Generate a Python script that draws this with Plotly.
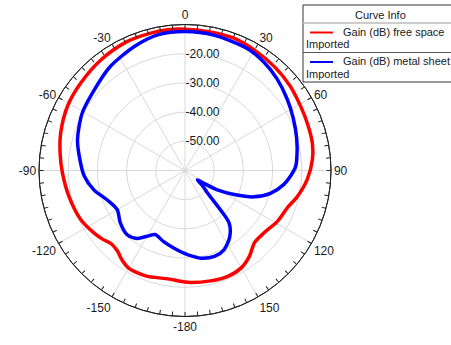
import plotly.graph_objects as go

# ---- data (theta in degrees, gain in dB) ----
theta_free = [-180, -170, -160, -150, -145, -140, -135, -130, -125, -115, -103, -91, -82, -73,
              -61, -50, -37, -24, -14, -7, 0, 9, 20, 30, 41, 51, 61, 69, 78, 85, 94, 103,
              110, 119, 128, 136, 143, 150, 158, 167, 177, 180]
gain_free = [-21.8, -22.4, -21.5, -21.4, -22.5, -24.0, -24.4, -23.3, -22.3, -20.5, -19.3, -18.0,
             -16.8, -15.5, -14.1, -13.4, -12.4, -11.6, -11.5, -11.4, -11.6, -11.8, -11.7, -12.4,
             -13.1, -13.8, -14.7, -15.1, -15.4, -16.2, -18.0, -20.5, -22.7, -23.9, -25.5, -25.7,
             -23.3, -21.5, -20.9, -21.2, -21.6, -21.8]

theta_metal = [-180, -172, -163, -155, -150, -145, -138, -129, -120, -111, -102, -93, -82, -74,
               -61, -48, -36, -22, -11, 0, 12, 27, 36, 45, 55, 64, 74, 84, 88, 93, 98, 105,
               111, 116, 121, 124, 127, 131, 135, 138, 140, 146, 154, 161, 170, 178, 180]
gain_metal = [-31.5, -33.1, -34.6, -35.8, -34.0, -31.6, -30.4, -31.5, -33.2, -31.6, -28.1, -25.4,
              -23.4, -21.7, -19.7, -18.4, -16.2, -14.1, -12.6, -12.4, -12.6, -13.1, -14.1, -15.5,
              -17.3, -18.8, -20.2, -21.5, -22.1, -23.8, -25.8, -29.7, -34.8, -41.3, -47.1, -52.2,
              -54.7, -52.0, -49.1, -41.8, -36.5, -32.6, -29.7, -28.9, -29.5, -31.1, -31.5]

series_names = ["Gain (dB) free space", "Gain (dB) metal sheet"]
series_sub = "Imported"
legend_title = "Curve Info"

ang_tickvals = [0, 30, 60, 90, 120, 150, 180, 210, 240, 270, 300, 330]
ang_ticktext = ["0", "30", "60", "90", "120", "150", "-180", "-150", "-120", "-90", "-60", "-30"]
minor_tickvals = list(range(0, 360, 5))
rad_tickvals = [-50, -40, -30, -20]
rad_ticktext = ["-50.00", "-40.00", "-30.00", "-20.00"]
r_range = [-60, -10]

W, H = 451, 345
FONT = "Liberation Sans, Arial, sans-serif"

fig = go.Figure()
fig.add_trace(go.Scatterpolar(r=gain_free, theta=theta_free, mode="lines", name=series_names[0],
                              line=dict(color="#ff0000", width=3.5, shape="spline", smoothing=0.8),
                              showlegend=False))
fig.add_trace(go.Scatterpolar(r=gain_metal, theta=theta_metal, mode="lines", name=series_names[1],
                              line=dict(color="#0000ff", width=3.5, shape="spline", smoothing=0.8),
                              showlegend=False))
# helper (invisible) trace to activate the tick-mark overlay subplot
fig.add_trace(go.Scatterpolar(r=[r_range[0]], theta=[0], mode="markers", marker=dict(opacity=0),
                              subplot="polar2", showlegend=False, hoverinfo="skip"))

cx, cy, R = 185, 170.5, 146
dom_x = [(cx - R) / W, (cx + R) / W]
dom_y = [1 - (cy + R) / H, 1 - (cy - R) / H]

fig.update_layout(
    width=W, height=H,
    margin=dict(l=0, r=0, t=0, b=0),
    paper_bgcolor="white",
    font=dict(family=FONT, size=12, color="#1a1a1a"),
    polar=dict(
        domain=dict(x=dom_x, y=dom_y),
        bgcolor="white",
        angularaxis=dict(rotation=90, direction="clockwise", tickmode="array",
                         tickvals=ang_tickvals, ticktext=ang_ticktext, showgrid=True,
                         gridcolor="#d9d9d9", gridwidth=1, showline=True, linecolor="#222222",
                         linewidth=1, ticks="", tickfont=dict(size=12, family=FONT)),
        radialaxis=dict(range=r_range, tickmode="array", tickvals=rad_tickvals,
                        ticktext=rad_ticktext, angle=90, tickangle=90, showline=False,
                        gridcolor="#d9d9d9", gridwidth=1, ticks="", side="clockwise",
                        tickfont=dict(size=12, family=FONT)),
    ),
    polar2=dict(
        domain=dict(x=dom_x, y=dom_y),
        bgcolor="rgba(0,0,0,0)",
        angularaxis=dict(rotation=90, direction="clockwise", tickmode="array",
                         tickvals=minor_tickvals, showticklabels=False, showgrid=False,
                         showline=True, linecolor="#222222", linewidth=1, ticks="inside",
                         ticklen=4, tickcolor="#222222", tickwidth=1),
        radialaxis=dict(range=r_range, visible=False),
    ),
)

# ---- manual legend box ("Curve Info") ----
def px(x):
    return x / W

def py(y):
    return 1 - y / H

shapes = [
    dict(type="rect", xref="paper", yref="paper", x0=px(303), x1=px(460), y0=py(5), y1=py(82),
         line=dict(color="#333333", width=1), fillcolor="white", layer="above"),
    dict(type="line", xref="paper", yref="paper", x0=px(303), x1=px(460), y0=py(23), y1=py(23),
         line=dict(color="#bbbbbb", width=1.5)),
    dict(type="line", xref="paper", yref="paper", x0=px(303), x1=px(460), y0=py(52.5), y1=py(52.5),
         line=dict(color="#555555", width=1)),
    dict(type="line", xref="paper", yref="paper", x0=px(310), x1=px(333), y0=py(32.5), y1=py(32.5),
         line=dict(color="#ff0000", width=2)),
    dict(type="line", xref="paper", yref="paper", x0=px(310), x1=px(333), y0=py(62), y1=py(62),
         line=dict(color="#0000ff", width=2)),
]
fig.update_layout(shapes=shapes)

ann_font = dict(family=FONT, size=11, color="#1a1a1a")
annotations = [
    dict(text=legend_title, x=px(380), y=py(14.5), xanchor="center", yanchor="middle"),
    dict(text=series_names[0], x=px(341), y=py(32), xanchor="left", yanchor="middle"),
    dict(text=series_sub, x=px(303.5), y=py(44), xanchor="left", yanchor="middle"),
    dict(text=series_names[1], x=px(341), y=py(61.5), xanchor="left", yanchor="middle"),
    dict(text=series_sub, x=px(303.5), y=py(73.5), xanchor="left", yanchor="middle"),
]
for a in annotations:
    a.update(xref="paper", yref="paper", showarrow=False, font=ann_font)
fig.update_layout(annotations=annotations)

fig.write_html("out.html")
